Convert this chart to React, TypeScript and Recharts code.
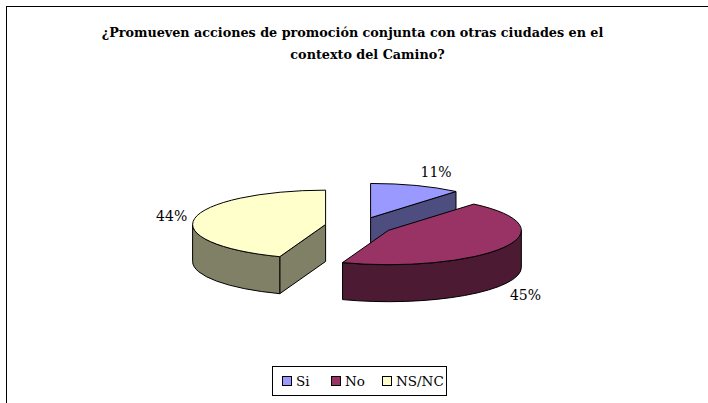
import { PieChart, Pie, Legend } from "recharts";

const categories = ["Si", "No", "NS/NC"];
const shares = [11.1, 44.5, 44.4];
const topColors = ["#9999ff", "#993366", "#ffffcc"];
const wallColors = ["#4d4d80", "#4d1a33", "#808066"];
const titleLines = [
  "¿Promueven acciones de promoción conjunta con otras ciudades en el",
  "contexto del Camino?",
];

const data = categories.map((name, i) => ({
  name,
  value: shares[i],
  fill: topColors[i],
  wall: wallColors[i],
}));

const FONT = "'DejaVu Serif', serif";
const SQUASH = 0.258; // tilt of the 3D pie
const DEPTH = 37;
const EXPLODE = 0.255;
const LABEL_NUDGE = [
  [20, -14],
  [22, 10],
  [-23, -2],
];
const LEGEND_WIDTHS = [49, 51, 60];

const toRad = (deg: number) => (deg * Math.PI) / 180;

// sector centre once the slice is pulled out of the pie
function explodedCentre(p: any) {
  const mid = toRad((p.startAngle + p.endAngle) / 2);
  return {
    x: p.cx + Math.cos(mid) * p.outerRadius * EXPLODE,
    y: p.cy - Math.sin(mid) * p.outerRadius * EXPLODE * SQUASH,
  };
}

function Slice3D(props: any) {
  const { startAngle, endAngle, outerRadius: r, fill, wall } = props;
  const c = explodedCentre(props);
  const rx = r;
  const ry = r * SQUASH;
  const pt = (a: number, dy = 0) =>
    `${c.x + Math.cos(toRad(a)) * rx} ${c.y - Math.sin(toRad(a)) * ry + dy}`;
  const hi = Math.max(startAngle, endAngle);
  const lo = Math.min(startAngle, endAngle);

  const top = `M${c.x} ${c.y} L${pt(hi)} A${rx} ${ry} 0 ${hi - lo > 180 ? 1 : 0} 1 ${pt(lo)} Z`;

  // only the bottom half of the ellipse shows its rim (0 to -180 here)
  const from = Math.min(hi, 0);
  const to = Math.max(lo, -180);
  const rim =
    from > to
      ? `M${pt(from)} A${rx} ${ry} 0 0 1 ${pt(to)} L${pt(to, DEPTH)} A${rx} ${ry} 0 0 0 ${pt(from, DEPTH)} Z`
      : null;

  const faces: string[] = [];
  [hi, lo].forEach((a, i) => {
    const s = Math.sin(toRad(90 - a));
    const visible = i === 0 ? s < -0.001 : s > 0.001;
    if (visible) faces.push(`M${c.x} ${c.y} L${pt(a)} L${pt(a, DEPTH)} L${c.x} ${c.y + DEPTH} Z`);
  });

  return (
    <g>
      {faces.map((d) => (
        <path key={d} d={d} fill={wall} stroke="#000" strokeWidth={1} strokeLinejoin="round" />
      ))}
      {rim && <path d={rim} fill={wall} stroke="#000" strokeWidth={1} strokeLinejoin="round" />}
      <path d={top} fill={fill} stroke="#000" strokeWidth={1} strokeLinejoin="round" />
    </g>
  );
}

function SliceLabel(props: any) {
  const { outerRadius: r, midAngle, index, value } = props;
  const c = explodedCentre(props);
  const a = toRad(midAngle);
  const x = c.x + Math.cos(a) * r + LABEL_NUDGE[index][0];
  let y = c.y - Math.sin(a) * r * SQUASH + LABEL_NUDGE[index][1];
  if (Math.sin(a) < -0.1) y += DEPTH;
  return (
    <text x={x} y={y} textAnchor="middle" dominantBaseline="central" fontFamily={FONT} fontSize={14} fill="#000">
      {`${Math.round(value)}%`}
    </text>
  );
}

function LegendBox() {
  return (
    <div
      style={{
        width: 164,
        height: 28,
        border: "1px solid #000",
        display: "flex",
        alignItems: "center",
        paddingLeft: 9,
        fontFamily: FONT,
        fontSize: 13.5,
        whiteSpace: "nowrap",
      }}
    >
      {data.map((d, i) => (
        <span key={d.name} style={{ display: "flex", alignItems: "center", width: LEGEND_WIDTHS[i] }}>
          <span style={{ width: 8, height: 8, border: "1px solid #000", background: d.fill, marginRight: 4, flex: "none" }} />
          {d.name}
        </span>
      ))}
    </div>
  );
}

export default function App() {
  return (
    <div style={{ position: "absolute", left: 0, top: 0, width: 708, height: 403, background: "#fff", overflow: "hidden" }}>
      <PieChart width={708} height={403} margin={{ top: 0, right: 0, bottom: 0, left: 0 }}>
        <rect x={6.5} y={6.5} width={1000} height={500} fill="none" stroke="#000" strokeWidth={1} />
        {titleLines.map((line, i) => (
          <text
            key={line}
            x={i === 0 ? 352.5 : 367.5}
            y={i === 0 ? 37 : 59}
            textAnchor="middle"
            fontFamily={FONT}
            fontWeight="bold"
            fontSize={12.75}
            fill="#000"
          >
            {line}
          </text>
        ))}
        <Pie
          data={data}
          dataKey="value"
          nameKey="name"
          cx={359}
          cy={226}
          outerRadius={133}
          startAngle={90}
          endAngle={-270}
          shape={Slice3D}
          label={SliceLabel}
          labelLine={false}
          isAnimationActive={false}
        />
        <Legend
          content={() => <LegendBox />}
          wrapperStyle={{ position: "absolute", left: 272, top: 366, width: "auto" }}
        />
      </PieChart>
    </div>
  );
}
